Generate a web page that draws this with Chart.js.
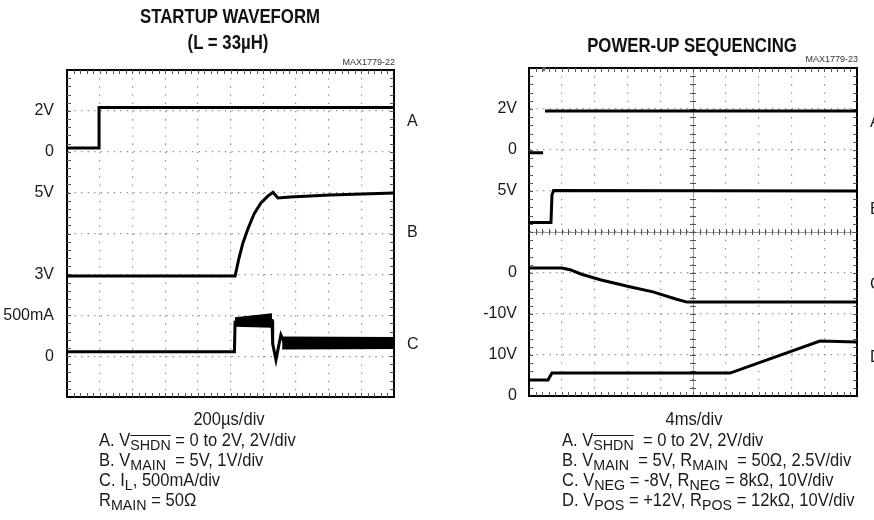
<!DOCTYPE html>
<html><head><meta charset="utf-8">
<script src="https://cdn.jsdelivr.net/npm/chart.js@4.4.1/dist/chart.umd.min.js"></script>
<style>
html,body{margin:0;padding:0;background:#fff}
body{width:874px;height:520px;overflow:hidden;position:relative;font-family:'Liberation Sans',Arial,sans-serif;color:#1a1a1a}
canvas{position:absolute;top:0}
.t{position:absolute;white-space:pre;font-size:18px;line-height:18px;transform-origin:0 0;transform:scaleX(0.92)}
.ttl{font-weight:bold;font-size:21px;line-height:21px;transform-origin:50% 0;transform:translateX(-50%) scaleX(0.8);color:#111}
.ctr{transform-origin:50% 0;transform:translateX(-50%) scaleX(0.92)}
.mx{font-size:9px;line-height:9px;color:#333;transform:none}
.s{font-size:15.5px;position:relative;top:4px}
.o{text-decoration:overline}
</style></head><body>
<canvas id="c1" width="437" height="520" style="left:0"></canvas>
<canvas id="c2" width="437" height="520" style="left:437px"></canvas>

<div class="t ttl" style="left:230px;top:5px">STARTUP WAVEFORM</div>
<div class="t ttl" style="left:228px;top:31px">(L = 33µH)</div>
<div class="t mx" style="right:479px;top:58.4px">MAX1779-22</div>
<div class="t ctr" style="left:229px;top:409.8px">200µs/div</div>
<div class="t" style="left:99px;top:430.8px">A. V<span class="s o">SHDN</span> = 0 to 2V, 2V/div</div>
<div class="t" style="left:99px;top:450.8px">B. V<span class="s">MAIN</span>  = 5V, 1V/div</div>
<div class="t" style="left:99px;top:470.8px">C. I<span class="s">L</span>, 500mA/div</div>
<div class="t" style="left:99px;top:490.8px">R<span class="s">MAIN</span> = 50Ω</div>

<div class="t ttl" style="left:692px;top:34px">POWER-UP SEQUENCING</div>
<div class="t mx" style="right:16px;top:55.4px">MAX1779-23</div>
<div class="t mx" style="left:540px;top:66px;font-size:8px;line-height:8px;color:#666">▼</div>
<div class="t ctr" style="left:694px;top:409.8px">4ms/div</div>
<div class="t" style="left:562px;top:430.8px">A. V<span class="s o">SHDN</span>  = 0 to 2V, 2V/div</div>
<div class="t" style="left:562px;top:450.8px">B. V<span class="s">MAIN</span>  = 5V, R<span class="s">MAIN</span>  = 50Ω, 2.5V/div</div>
<div class="t" style="left:562px;top:470.8px">C. V<span class="s">NEG</span> = -8V, R<span class="s">NEG</span> = 8kΩ, 10V/div</div>
<div class="t" style="left:562px;top:490.8px">D. V<span class="s">POS</span> = +12V, R<span class="s">POS</span> = 12kΩ, 10V/div</div>

<script>
// ---- data (x in horizontal divisions 0..10, y in vertical divisions 0..8) ----
// Left panel: startup waveform
const L_yTickLabels = ['', '0', '500mA', '3V', '', '5V', '0', '2V', ''];
const L_traceNames = ['A', 'B', 'C'];
const L_tracePos = [6.75, 4.01, 1.27];
const L_A_x = [0, 0.98, 0.98, 10];
const L_A_y = [6.09, 6.09, 7.08, 7.08];
const L_B_x = [0, 5.14, 5.26, 5.38, 5.54, 5.72, 5.93, 6.15, 6.30, 6.45, 6.82, 8.04, 10];
const L_B_y = [2.96, 2.96, 3.40, 3.77, 4.13, 4.48, 4.75, 4.92, 5.01, 4.87, 4.89, 4.94, 4.99];
const L_C_x = [0, 5.12, 5.14, 6.27, 6.29, 6.39, 6.54, 6.65, 10];
const L_C_y = [1.11, 1.11, 1.83, 1.87, 1.30, 0.91, 1.52, 1.32, 1.32];
const L_Cband1_x = [5.14, 6.27];
const L_Cband1_top = [1.93, 2.03];
const L_Cband1_bot = [1.74, 1.71];
const L_Cband2_x = [6.58, 10];
const L_Cband2_top = [1.46, 1.45];
const L_Cband2_bot = [1.18, 1.19];

// Right panel: power-up sequencing
const R_yTickLabels = ['0', '10V', '-10V', '0', '', '5V', '0', '2V', ''];
const R_traceNames = ['A', 'B', 'C', 'D'];
const R_tracePos = [6.68, 4.54, 2.71, 0.93];
const R_A_x = [0, 0.43, 0.46, 0.49, 10];
const R_A_y = [5.93, 5.93, null, 6.95, 6.95];
const R_B_x = [0, 0.67, 0.70, 0.75, 10];
const R_B_y = [4.23, 4.23, 4.90, 5.01, 5.00];
const R_C_x = [0, 1.0, 1.25, 1.6, 2.2, 3.1, 3.78, 4.5, 4.82, 10];
const R_C_y = [3.12, 3.12, 3.08, 2.97, 2.83, 2.66, 2.54, 2.36, 2.29, 2.29];
const R_D_x = [0, 0.58, 0.70, 3.0, 6.13, 8.87, 10];
const R_D_y = [0.39, 0.39, 0.56, 0.56, 0.56, 1.34, 1.32];

const FONT = "'Liberation Sans',Arial,sans-serif";
const pts = (xs, ys) => xs.map((x, i) => ({x, y: ys[i]}));

const graticule = {
  id: 'graticule',
  beforeDatasetsDraw(chart, args, opts) {
    const {ctx, chartArea: a, scales: {x, y}} = chart;
    ctx.save();
    if (opts.center) {
      ctx.strokeStyle = '#9a9a9a'; ctx.lineWidth = 1;
      const cx = Math.round(x.getPixelForValue(5)) + 0.5;
      const cy = Math.round(y.getPixelForValue(4)) + 0.5;
      ctx.beginPath();
      ctx.moveTo(cx, a.top); ctx.lineTo(cx, a.bottom);
      ctx.moveTo(a.left, cy); ctx.lineTo(a.right, cy);
      ctx.stroke();
    }
    ctx.strokeStyle = '#555'; ctx.lineWidth = 1;
    ctx.beginPath();
    for (let i = 1; i < 50; i++) {
      const px = Math.round(x.getPixelForValue(i / 5)) + 0.5;
      ctx.moveTo(px, a.top); ctx.lineTo(px, a.top + 4);
      ctx.moveTo(px, a.bottom); ctx.lineTo(px, a.bottom - 4);
      if (opts.center) {
        const cy = y.getPixelForValue(4);
        ctx.moveTo(px, cy - 3); ctx.lineTo(px, cy + 3);
      }
    }
    for (let i = 1; i < 40; i++) {
      const py = Math.round(y.getPixelForValue(i / 5)) + 0.5;
      ctx.moveTo(a.left, py); ctx.lineTo(a.left + 4, py);
      ctx.moveTo(a.right, py); ctx.lineTo(a.right - 4, py);
      if (opts.center) {
        const cx = x.getPixelForValue(5);
        ctx.moveTo(cx - 3, py); ctx.lineTo(cx + 3, py);
      }
    }
    ctx.stroke();
    ctx.restore();
  }
};

function lineDs(data, extra) {
  return Object.assign({data, borderColor: '#000', borderWidth: 3, pointRadius: 0, tension: 0, fill: false, spanGaps: false}, extra || {});
}

function makeChart(id, cfg) {
  const leftW = cfg.left, rightW = 437 - cfg.right;
  return new Chart(document.getElementById(id), {
    type: 'line',
    data: {datasets: cfg.datasets},
    options: {
      responsive: false, animation: false, devicePixelRatio: 1,
      layout: {padding: {top: cfg.top, bottom: 520 - cfg.bottom, left: 0, right: 0}},
      plugins: {legend: {display: false}, tooltip: {enabled: false}, graticule: {center: cfg.center}},
      scales: {
        x: {type: 'linear', position: 'bottom', min: 0, max: 10,
            ticks: {display: false, stepSize: 1},
            grid: {color: '#8a8a8a', lineWidth: 1.2, drawTicks: false},
            border: {display: true, color: '#000', width: 2, dash: [1.3, 40.9 / 5 - 1.3]},
            afterFit: s => { s.height = 0; }},
        xt: {type: 'linear', position: 'top', min: 0, max: 10,
            ticks: {display: false}, grid: {drawOnChartArea: false, drawTicks: false},
            border: {display: true, color: '#000', width: 2},
            afterFit: s => { s.height = 0; }},
        y: {type: 'linear', position: 'left', min: 0, max: 8,
            ticks: {stepSize: 1, autoSkip: false, padding: cfg.lpad, color: '#1a1a1a',
                    font: {family: FONT, size: 16}, callback: v => cfg.yLabels[v] ?? ''},
            grid: {color: '#8a8a8a', lineWidth: 1.2, drawTicks: false},
            border: {display: true, color: '#000', width: 2, dash: [1.3, 32.7 / 5 - 1.3]},
            afterFit: s => { s.width = leftW; }},
        yr: {type: 'linear', position: 'right', min: 0, max: 8,
            afterBuildTicks: s => { s.ticks = cfg.namePos.map(v => ({value: v})); },
            ticks: {autoSkip: false, padding: 13, color: '#1a1a1a',
                    font: {family: FONT, size: 16}, callback: (v, i) => cfg.names[i]},
            grid: {drawOnChartArea: false, drawTicks: false},
            border: {display: true, color: '#000', width: 2},
            afterFit: s => { s.width = rightW; }}
      }
    },
    plugins: [graticule]
  });
}

makeChart('c1', {
  left: 67, right: 394, top: 70, bottom: 397, lpad: 13, center: false,
  yLabels: L_yTickLabels, names: L_traceNames, namePos: L_tracePos,
  datasets: [
    lineDs(pts(L_A_x, L_A_y)),
    lineDs(pts(L_B_x, L_B_y)),
    lineDs(pts(L_C_x, L_C_y)),
    lineDs(pts(L_Cband1_x, L_Cband1_top), {borderWidth: 1.5}),
    lineDs(pts(L_Cband1_x, L_Cband1_bot), {borderWidth: 1.5, fill: '-1', backgroundColor: '#000'}),
    lineDs(pts(L_Cband2_x, L_Cband2_top), {borderWidth: 1.5}),
    lineDs(pts(L_Cband2_x, L_Cband2_bot), {borderWidth: 1.5, fill: '-1', backgroundColor: '#000'})
  ]
});

makeChart('c2', {
  left: 92, right: 420, top: 68, bottom: 396, lpad: 12, center: true,
  yLabels: R_yTickLabels, names: R_traceNames, namePos: R_tracePos,
  datasets: [
    lineDs(pts(R_A_x, R_A_y)),
    lineDs(pts(R_B_x, R_B_y)),
    lineDs(pts(R_C_x, R_C_y)),
    lineDs(pts(R_D_x, R_D_y))
  ]
});
</script>
</body></html>
